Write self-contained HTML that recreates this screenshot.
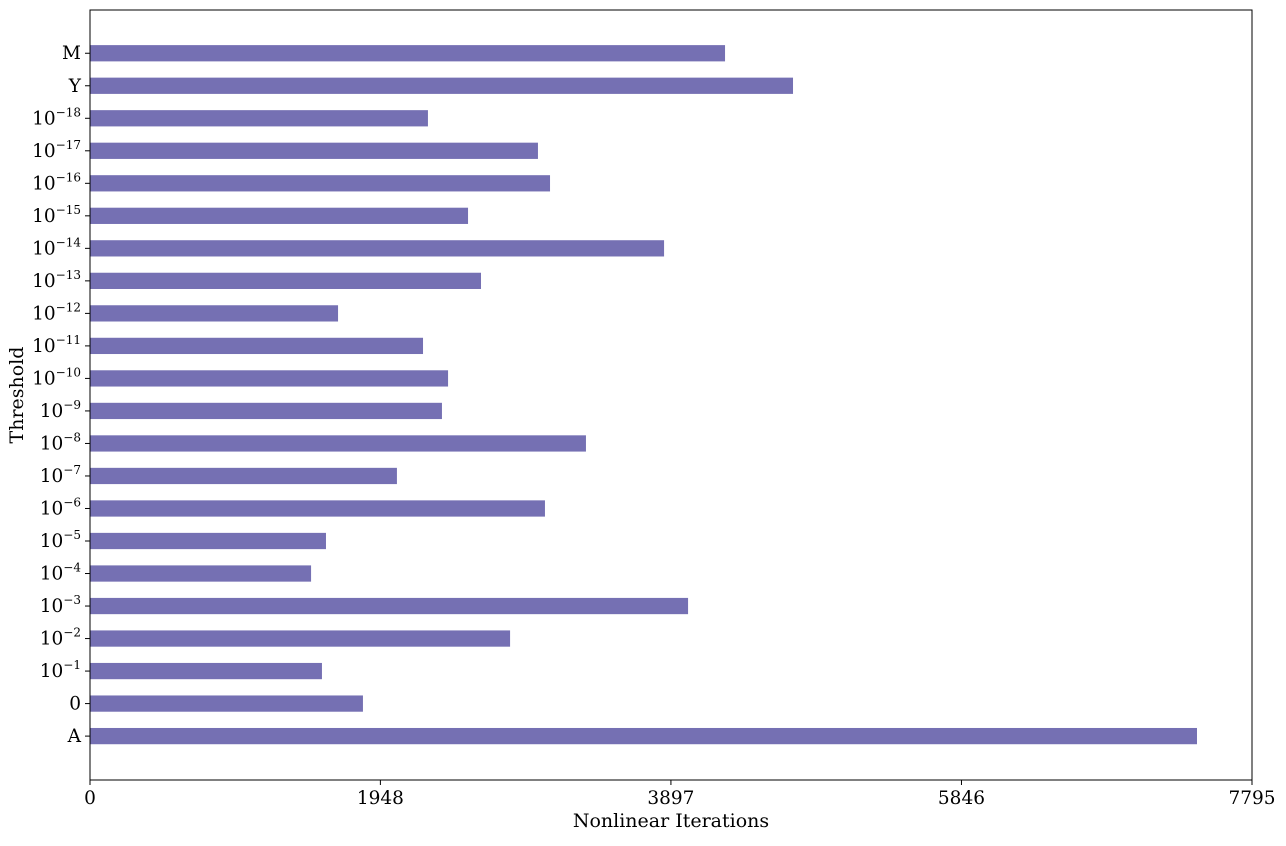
<!DOCTYPE html>
<html><head><meta charset="utf-8"><style>
body{margin:0;background:#fff;}
svg text{font-family:"DejaVu Serif","Liberation Serif",serif;fill:#000;}
</style></head><body>
<svg id="chart" width="1286" height="841"></svg>
<script>
const categories=["A","0","-1","-2","-3","-4","-5","-6","-7","-8","-9","-10","-11","-12","-13","-14","-15","-16","-17","-18","Y","M"];
const values=[7426,1831,1556,2818,4012,1483,1583,3052,2059,3327,2361,2402,2234,1664,2623,3851,2536,3086,3005,2267,4716,4260];
const xTicks=[0,1948,3897,5846,7795];
const L=90,R=1252,T=10,B=780,xMax=7795,yMin=-1.35,yMax=22.33;
const ns="http://www.w3.org/2000/svg";
const svg=document.getElementById('chart');
const x=v=>L+(v/xMax)*(R-L);
const y=i=>B-(i-yMin)/(yMax-yMin)*(B-T);
function mk(t,a){const e=document.createElementNS(ns,t);for(const k in a)e.setAttribute(k,a[k]);svg.appendChild(e);return e;}
categories.forEach((c,i)=>{
 const r=mk('rect',{x:x(0),y:y(i+0.25),width:x(values[i])-x(0),height:y(i-0.25)-y(i+0.25),fill:'#7570b3'});
 
 
 mk('line',{x1:L-5,x2:L,y1:y(i),y2:y(i),stroke:'#000'});
 const t=mk('text',{x:L-9,y:y(i)+6,'text-anchor':'end','font-size':18.5});
 
 
 if(c.startsWith('-')){t.textContent='10';const s=document.createElementNS(ns,'tspan');s.setAttribute('dy',-8);s.setAttribute('font-size',12);s.textContent='−'+c.slice(1);t.appendChild(s);}
 else t.textContent=c;
});
xTicks.forEach(v=>{
 mk('line',{x1:x(v),x2:x(v),y1:B,y2:B+5,stroke:'#000'});
 const t=mk('text',{x:x(v),y:B+24,'text-anchor':'middle','font-size':18.5});
 
 
 t.textContent=v;
});
const f=mk('rect',{x:L,y:T,width:R-L,height:B-T,fill:'none',stroke:'#000','stroke-width':1});


const xt=mk('text',{x:(L+R)/2,y:827,'text-anchor':'middle','font-size':19});


xt.textContent='Nonlinear Iterations';
const yt=mk('text',{x:0,y:0,'text-anchor':'middle','font-size':19,transform:'translate(23,395) rotate(-90)'});


yt.textContent='Threshold';
</script>
</body></html>
